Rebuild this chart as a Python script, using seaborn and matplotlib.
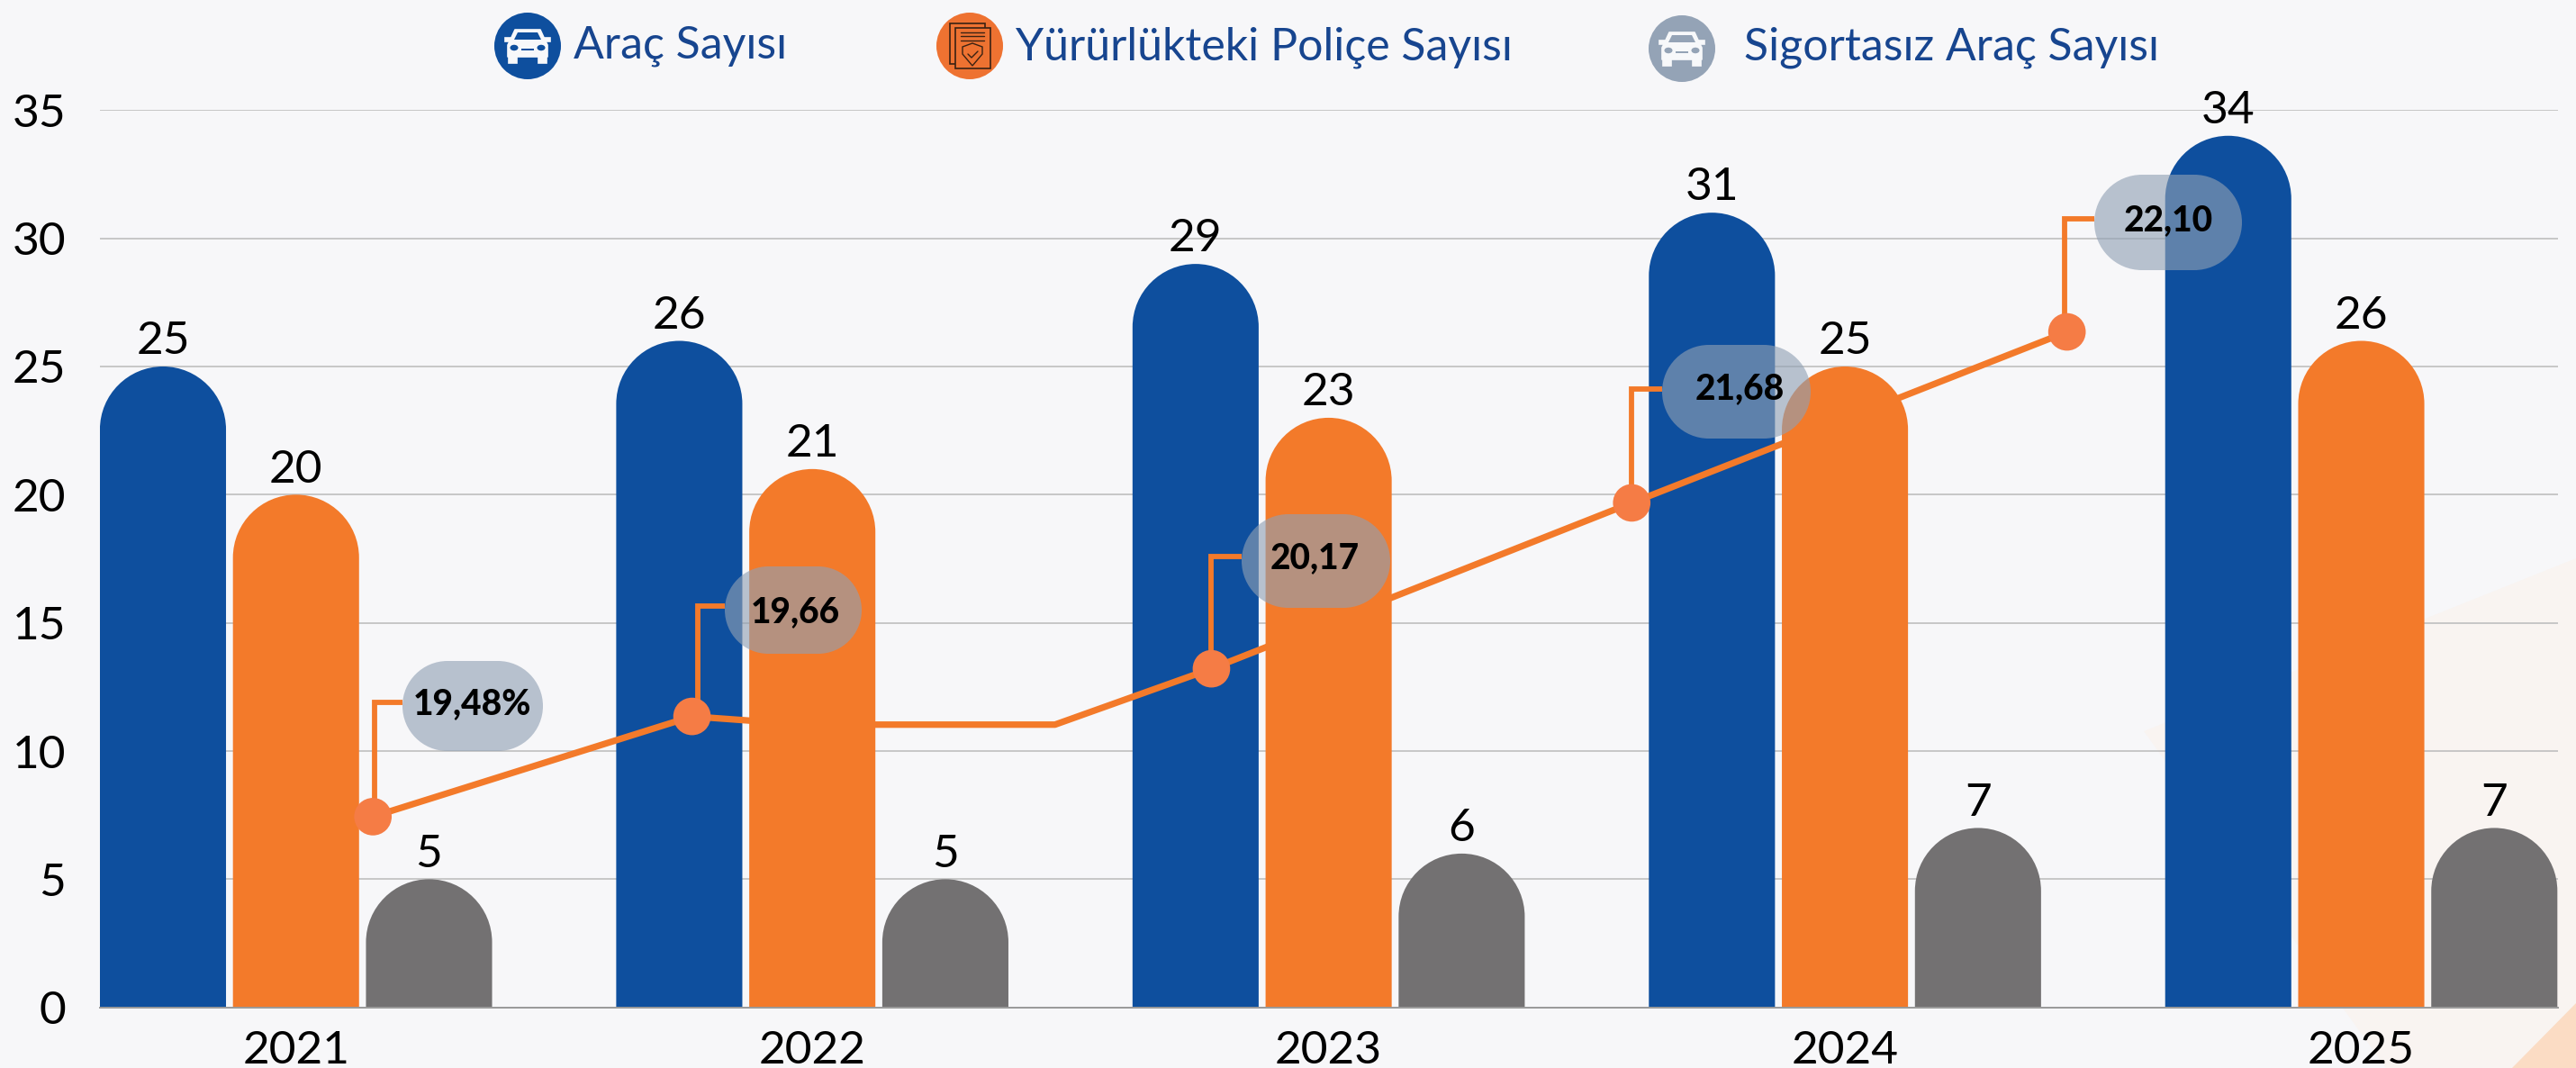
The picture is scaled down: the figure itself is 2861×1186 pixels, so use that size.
import numpy as np
import pandas as pd
import seaborn as sns
import matplotlib.pyplot as plt
from matplotlib.path import Path
from matplotlib.patches import PathPatch, Circle, Polygon, Ellipse
from matplotlib.transforms import Affine2D

years = ["2021", "2022", "2023", "2024", "2025"]
arac = [25, 26, 29, 31, 34]
police = [20, 21, 23, 25, 26]
sigortasiz = [5, 5, 6, 7, 7]
series_names = ["Araç Sayısı", "Yürürlükteki Poliçe Sayısı", "Sigortasız Araç Sayısı"]
bar_colors = ["#0E4F9E", "#F37A2A", "#737172"]

# orange rate line (x in group units)
rate_x = [0.149, 0.767, 1.773, 2.587, 3.430]
rate_y = [7.44, 11.35, 13.21, 19.68, 26.35]
line_x = [0.149, 0.767, 0.986, 1.470, 1.773, 2.587, 3.430]
line_y = [7.44, 11.35, 11.03, 11.03, 13.21, 19.68, 26.35]
rate_labels = ["19,48%", "19,66", "20,17", "21,68", "22,10"]

W, H = 2861, 1186
fig = plt.figure(figsize=(W / 200, H / 200), dpi=200)
sns.set_theme(style="white")
plt.rcParams['font.family'] = ['Lato', 'DejaVu Sans']
fig.patch.set_facecolor("#F7F7F9")

# reference pixel coordinates for the decoration
px = Affine2D().scale(1 / W, -1 / H).translate(0, 1) + fig.transFigure

fig.add_artist(Polygon([(2381, 812), (2861, 620), (2861, 1186), (2650, 1186)], closed=True,
                       fc="#F9F4F1", ec="none", transform=px, zorder=-5))
fig.add_artist(Polygon([(2790, 1186), (2861, 1114), (2861, 1186)], closed=True,
                       fc="#FBDCC4", ec="none", transform=px, zorder=-4))

ax = fig.add_axes([110.6 / W, 1 - 1118.7 / H, (2841 - 110.6) / W, (1118.7 - 122.3) / H])
ax.patch.set_alpha(0)

df = pd.DataFrame({
    "yil": years * 3,
    "seri": np.repeat(series_names, 5),
    "deger": arac + police + sigortasiz,
})
sns.barplot(data=df, x="yil", y="deger", hue="seri", palette=bar_colors, saturation=1,
            width=0.773, gap=0.052, legend=False, ax=ax)

ax.set_xlim(-0.3804, 4.381)
ax.set_ylim(0, 35)
ax.set_yticks(range(0, 36, 5))
ax.set_xlabel("")
ax.set_ylabel("")
ax.grid(axis="y", color="#BFBFBF", lw=0.6)
ax.set_axisbelow(True)
for s in ["top", "left", "right"]:
    ax.spines[s].set_visible(False)
ax.spines["bottom"].set_color("#9A9A9A")
ax.spines["bottom"].set_linewidth(0.7)
ax.tick_params(axis="both", length=0, labelsize=18.5, labelcolor="black")
ax.tick_params(axis="y", pad=13.5)
ax.tick_params(axis="x", pad=9)

K = 0.5523

# swap the square bars for ones with a round top
units_per_px = 35 / (1118.7 - 122.3)
x_px = (2841 - 110.6) / (4.381 + 0.3804)
for cont in ax.containers:
    for bar in cont:
        x0, w, h = bar.get_x(), bar.get_width(), bar.get_height()
        rx = w / 2
        ry = rx * x_px * units_per_px
        verts = [(x0, 0), (x0, h - ry),
                 (x0, h - ry + K * ry), (x0 + rx - K * rx, h), (x0 + rx, h),
                 (x0 + rx + K * rx, h), (x0 + w, h - ry + K * ry), (x0 + w, h - ry),
                 (x0 + w, 0), (x0, 0)]
        codes = [Path.MOVETO, Path.LINETO, Path.CURVE4, Path.CURVE4, Path.CURVE4,
                 Path.CURVE4, Path.CURVE4, Path.CURVE4, Path.LINETO, Path.CLOSEPOLY]
        ax.add_patch(PathPatch(Path(verts, codes), fc=bar.get_facecolor(), ec="none", zorder=2))
        bar.set_visible(False)
    ax.bar_label(cont, padding=1.7, fontsize=18.5, color="black")

sns.lineplot(x=line_x, y=line_y, sort=False, estimator=None, color="#F37A2A", lw=2.6, ax=ax, zorder=3)
sns.scatterplot(x=rate_x, y=rate_y, color="#F57C45", s=225, edgecolor="none", ax=ax, zorder=4)


def pill_path(x0, y0, x1, y1):
    r = (y1 - y0) / 2
    ym = (y0 + y1) / 2
    c = K * r
    verts = [(x0 + r, y0), (x1 - r, y0),
             (x1 - r + c, y0), (x1, ym - c), (x1, ym),
             (x1, ym + c), (x1 - r + c, y1), (x1 - r, y1),
             (x0 + r, y1),
             (x0 + r - c, y1), (x0, ym + c), (x0, ym),
             (x0, ym - c), (x0 + r - c, y0), (x0 + r, y0), (x0 + r, y0)]
    codes = [Path.MOVETO, Path.LINETO] + [Path.CURVE4] * 6 + [Path.LINETO] + [Path.CURVE4] * 6 + [Path.CLOSEPOLY]
    return Path(verts, codes)


# leader lines and pills: leader x, elbow y, pill box, text centre (reference pixels)
leader_x = [416, 775, 1345, 1812, 2293]
elbow_y = [780, 673, 618, 432, 243]
marker_y = [906, 796, 743, 558, 368]
pill_box = [(447, 734, 603, 834), (805, 629, 957, 726), (1379, 571, 1544, 675),
            (1846, 383, 2011, 487), (2326, 194, 2490, 300)]
text_c = [(524, 782), (883, 680), (1460, 620), (1932, 432), (2408, 245)]

for i in range(5):
    x0, y0, x1, y1 = pill_box[i]
    ax.plot([leader_x[i], leader_x[i], x0], [marker_y[i], elbow_y[i], elbow_y[i]], color="#F37A2A",
            lw=2.1, transform=px, clip_on=False, zorder=3.5, solid_joinstyle="miter", solid_capstyle="butt")
    ax.add_patch(PathPatch(pill_path(x0, y0, x1, y1), fc="#90A0B4", ec="none", alpha=0.62,
                           transform=px, clip_on=False, zorder=5))
    ax.text(text_c[i][0], text_c[i][1], rate_labels[i], ha="center", va="center", fontsize=14,
            fontweight="black", color="black", transform=px, zorder=6)


# legend
def car_icon(cx, cy, bg):
    def P(pts):
        return [(cx + a, cy + b) for a, b in pts]
    white = "#F7F8FA"
    add = lambda p: ax.add_patch(p)
    add(Circle((cx, cy), 37, fc=bg, ec="none", transform=px, clip_on=False, zorder=6))
    add(Polygon(P([(-14, -18), (14, -18), (20, -5), (22, -1), (22, 12), (-22, 12), (-22, -1), (-20, -5)]),
                fc=white, ec=white, lw=0.6, joinstyle="round", transform=px, clip_on=False, zorder=7))
    for a, b, c, d in [(-21, 12, -12, 19), (12, 12, 21, 19), (-25, -9, -19, -5), (19, -9, 25, -5)]:
        add(Polygon(P([(a, b), (c, b), (c, d), (a, d)]), fc=white, ec=white, lw=0.6,
                    transform=px, clip_on=False, zorder=7))
    add(Polygon(P([(-11, -15), (11, -15), (15, -7), (-15, -7)]), fc=bg, ec="none",
                transform=px, clip_on=False, zorder=8))
    for s in (-1, 1):
        add(Ellipse((cx + s * 15, cy + 2), 9, 6.5, fc=bg, ec="none", transform=px, clip_on=False, zorder=8))
    add(Polygon(P([(-7, 3), (7, 3), (7, 5), (-7, 5)]), fc=bg, ec="none", transform=px, clip_on=False, zorder=8))


def doc_icon(cx, cy):
    def P(pts):
        return [(cx + a, cy + b) for a, b in pts]
    dark = "#3A2213"
    bg = "#EE7231"
    ax.add_patch(Circle((cx, cy), 37, fc=bg, ec="none", transform=px, clip_on=False, zorder=6))
    for a, b, c, d in [(-22, -25, 17, 20), (-16, -20, 23, 25)]:
        ax.add_patch(Polygon(P([(a, b), (c, b), (c, d), (a, d)]), fc=bg, ec=dark, lw=0.6,
                             transform=px, clip_on=False, zorder=7))
    for ly in (-15, -11, -6):
        ax.plot([cx - 10, cx + 16], [cy + ly, cy + ly], color=dark, lw=0.5, transform=px, clip_on=False, zorder=8)
    ax.add_patch(Polygon(P([(3, -3), (14, 1), (14, 9), (3, 22), (-8, 9), (-8, 1)]), fc=bg, ec=dark, lw=0.5,
                         transform=px, clip_on=False, zorder=8))
    ax.plot([cx - 2, cx + 2, cx + 9], [cy + 9, cy + 13, cy + 6], color=dark, lw=0.5, transform=px,
            clip_on=False, zorder=8)


car_icon(586, 51, "#0E4F9E")
doc_icon(1077, 51)
car_icon(1868, 54, "#94A3B6")
legend_pos = [(637, 64), (1128, 67), (1937, 67)]
for name, (tx, ty) in zip(series_names, legend_pos):
    ax.text(tx, ty, name, fontsize=18, color="#17458F", va="baseline", ha="left", transform=px, zorder=6)

fig.savefig("out.png", dpi=200, facecolor=fig.get_facecolor())
